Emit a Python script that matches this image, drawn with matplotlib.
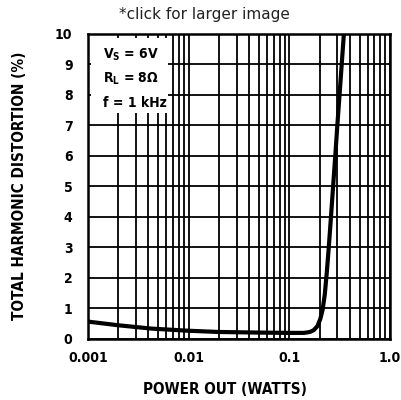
import numpy as np
import matplotlib
matplotlib.use('Agg')
import matplotlib.pyplot as plt
from matplotlib.patches import Rectangle

# THD vs output power
power_w = [0.001, 0.002, 0.0043, 0.01, 0.02, 0.05, 0.1, 0.14, 0.16, 0.175,
           0.19, 0.203, 0.214, 0.225, 0.236, 0.2466, 0.2594, 0.2723,
           0.2863, 0.300, 0.3155, 0.3316, 0.3485]
thd_pct = [0.57, 0.45, 0.34, 0.27, 0.23, 0.21, 0.2, 0.2, 0.23, 0.29,
           0.42, 0.65, 0.95, 1.45, 2.2, 3.0, 4.0, 5.0,
           6.0, 7.0, 8.0, 9.0, 10.0]

x_ticks = [0.001, 0.01, 0.1, 1.0]
x_tick_labels = ['0.001', '0.01', '0.1', '1.0']
y_ticks = list(range(0, 11))
conditions = [r'V$_\mathregular{S}$ = 6V', r'R$_\mathregular{L}$ = 8Ω', 'f = 1 kHz']

plt.rcParams['font.family'] = ['DejaVu Sans']
plt.rcParams['font.weight'] = 'bold'
plt.rcParams['font.stretch'] = 'condensed'
plt.rcParams['axes.labelweight'] = 'bold'

fig = plt.figure(figsize=(4.01, 4.0), dpi=100)
ax = fig.add_axes([0.219, 0.1525, 0.7536, 0.7635])

ax.set_xscale('log')
ax.set_xlim(0.001, 1.0)
ax.set_ylim(0, 10)
ax.set_xticks(x_ticks)
ax.set_xticklabels(x_tick_labels)
ax.set_yticks(y_ticks)
ax.tick_params(axis='both', which='both', length=0, labelsize=10)
ax.tick_params(axis='x', pad=9)
ax.tick_params(axis='y', pad=11)

ax.grid(True, which='both', axis='x', color='black', lw=1.3)
ax.grid(True, which='major', axis='y', color='black', lw=1.3)
ax.set_axisbelow(True)
for s in ax.spines.values():
    s.set_linewidth(1.8)

# white box over the grid for the test conditions
ax.add_patch(Rectangle((0.012, 0.74), 0.254, 0.246, transform=ax.transAxes,
                       facecolor='white', edgecolor='none', zorder=1.5))
for i, txt in enumerate(conditions):
    ax.text(0.05, 0.932 - i * 0.08, txt, transform=ax.transAxes,
            fontsize=10, va='center', ha='left', zorder=3)

ax.plot(power_w, thd_pct, color='black', lw=3, zorder=4)

ax.set_xlabel('POWER OUT (WATTS)', fontsize=11)
ax.xaxis.set_label_coords(0.455, -0.14)
ax.set_ylabel('TOTAL HARMONIC DISTORTION (%)', fontsize=11, labelpad=20)

fig.text(0.511, 0.965, '*click for larger image', ha='center', va='center',
         fontsize=11, fontweight='normal', fontstretch='normal',
         family='DejaVu Sans', color='#222222')

fig.savefig('out.png', dpi=100)
